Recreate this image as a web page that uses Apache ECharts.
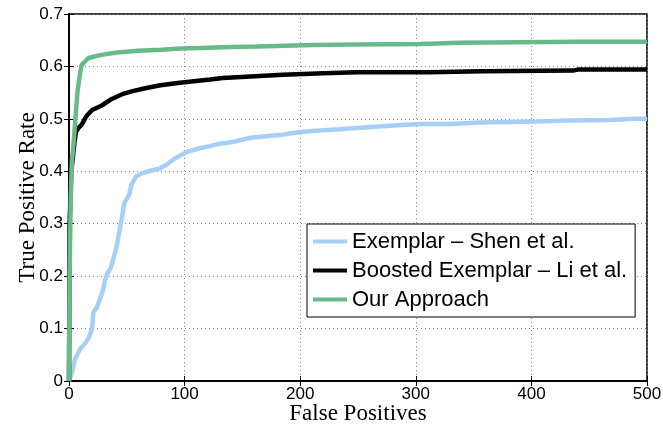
<!DOCTYPE html>
<html>
<head>
<meta charset="utf-8">
<script src="https://cdn.jsdelivr.net/npm/echarts@6/dist/echarts.min.js"></script>
<style>
html, body { margin: 0; padding: 0; background: #fff; }
#chart { width: 663px; height: 430px; }
</style>
</head>
<body>
<div id="chart"></div>
<script>
// 数据
var seriesNames = ['Exemplar – Shen et al.', 'Boosted Exemplar – Li et al.', 'Our Approach'];

var shenX = [0, 3, 5, 7, 10, 14, 17, 20, 21, 24, 26, 29, 31, 33, 36, 38, 41, 44, 46, 48, 52, 54, 58, 64, 72, 78, 84, 90, 96, 102, 113, 122, 131, 142, 157, 170, 182, 197, 210, 234, 258, 284, 304, 330, 355, 405, 432, 467, 490, 500];
var shenY = [0, 0.02, 0.04, 0.05, 0.062, 0.072, 0.082, 0.1, 0.13, 0.14, 0.152, 0.17, 0.19, 0.205, 0.215, 0.23, 0.255, 0.29, 0.315, 0.34, 0.355, 0.374, 0.39, 0.397, 0.402, 0.405, 0.412, 0.422, 0.43, 0.437, 0.444, 0.448, 0.453, 0.456, 0.464, 0.467, 0.469, 0.474, 0.477, 0.48, 0.484, 0.488, 0.49, 0.49, 0.493, 0.495, 0.497, 0.498, 0.5, 0.5];

var liX = [0, 0.5, 2, 4, 5, 6, 8, 11, 15, 20, 28, 37, 46, 55, 65, 79, 96, 122, 133, 157, 185, 220, 249, 312, 357, 436, 440, 500];
var liY = [0, 0.3, 0.4, 0.44, 0.46, 0.475, 0.482, 0.489, 0.505, 0.517, 0.525, 0.538, 0.547, 0.553, 0.558, 0.564, 0.569, 0.575, 0.578, 0.581, 0.584, 0.587, 0.589, 0.589, 0.591, 0.592, 0.594, 0.594];

var oursX = [0, 0.5, 1.5, 2.5, 3.5, 5.5, 7.5, 9.8, 11, 14, 17, 22, 28, 37, 44, 60, 80, 96, 113, 140, 163, 211, 250, 304, 338, 439, 500];
var oursY = [0, 0.2, 0.35, 0.42, 0.44, 0.5, 0.555, 0.59, 0.603, 0.61, 0.616, 0.619, 0.622, 0.625, 0.627, 0.63, 0.632, 0.634, 0.635, 0.637, 0.638, 0.641, 0.642, 0.643, 0.645, 0.647, 0.647];

var xTicks = [0, 100, 200, 300, 400, 500];
var yTicks = [0, 0.1, 0.2, 0.3, 0.4, 0.5, 0.6, 0.7];

var colors = ['#a6cff5', '#000000', '#68bb88'];

function zip(xs, ys) {
    var out = [];
    for (var i = 0; i < xs.length; i++) {
        out.push([xs[i], ys[i]]);
    }
    return out;
}

var sansFont = '"Liberation Sans", Arial, Helvetica, sans-serif';
var serifFont = '"Liberation Serif", "Times New Roman", serif';
var gridLine = { show: true, lineStyle: { color: '#888', width: 1, type: [1, 3] } };

var myChart = echarts.init(document.getElementById('chart'));

var option = {
    animation: false,
    backgroundColor: '#fff',
    color: colors,
    grid: {
        left: 69, right: 16, top: 14, bottom: 49,
        outerBoundsMode: 'none',
        containLabel: false,
        show: true, borderColor: '#000', borderWidth: 1.5, backgroundColor: 'transparent'
    },
    legend: {
        data: seriesNames,
        orient: 'vertical',
        left: 307, top: 224,
        padding: [6, 8, 6, 6],
        itemGap: 6,
        itemWidth: 34, itemHeight: 4,
        icon: 'rect',
        backgroundColor: '#fff',
        borderColor: '#000', borderWidth: 1,
        textStyle: { fontFamily: sansFont, fontSize: 22, color: '#000', lineHeight: 23 }
    },
    xAxis: [{
        type: 'value',
        min: xTicks[0], max: xTicks[xTicks.length - 1], interval: 100,
        name: 'False Positives', nameLocation: 'middle', nameGap: 21,
        nameMoveOverlap: false,
        nameTextStyle: { fontFamily: serifFont, fontSize: 23, color: '#000' },
        axisLine: { show: true, lineStyle: { color: '#000', width: 1.5 } },
        axisTick: { show: true, inside: true, length: 5, lineStyle: { color: '#000' } },
        axisLabel: { fontFamily: sansFont, fontSize: 17, color: '#000', margin: 5 },
        splitLine: gridLine
    }, {
        type: 'value', position: 'top',
        min: xTicks[0], max: xTicks[xTicks.length - 1], interval: 100,
        axisLine: { show: true, lineStyle: { color: '#000', width: 1.5 } },
        axisTick: { show: true, inside: true, length: 5, lineStyle: { color: '#000' } },
        axisLabel: { show: false },
        splitLine: { show: false }
    }],
    yAxis: [{
        type: 'value',
        min: yTicks[0], max: yTicks[yTicks.length - 1], interval: 0.1,
        name: 'True Positive Rate', nameLocation: 'middle', nameGap: 30,
        nameMoveOverlap: false,
        nameTextStyle: { fontFamily: serifFont, fontSize: 23, color: '#000' },
        axisLine: { show: true, lineStyle: { color: '#000', width: 1.5 } },
        axisTick: { show: true, inside: true, length: 5, lineStyle: { color: '#000' } },
        axisLabel: { fontFamily: sansFont, fontSize: 17, color: '#000', margin: 6 },
        splitLine: gridLine
    }, {
        type: 'value', position: 'right',
        min: yTicks[0], max: yTicks[yTicks.length - 1], interval: 0.1,
        axisLine: { show: true, lineStyle: { color: '#000', width: 1.5 } },
        axisTick: { show: true, inside: true, length: 5, lineStyle: { color: '#000' } },
        axisLabel: { show: false },
        splitLine: { show: false }
    }],
    series: [{
        name: seriesNames[0], type: 'line', showSymbol: false,
        lineStyle: { width: 4.5, color: colors[0] },
        data: zip(shenX, shenY)
    }, {
        name: seriesNames[1], type: 'line', showSymbol: false,
        lineStyle: { width: 4.5, color: colors[1] },
        data: zip(liX, liY)
    }, {
        name: seriesNames[2], type: 'line', showSymbol: false,
        lineStyle: { width: 4.5, color: colors[2] },
        data: zip(oursX, oursY)
    }]
};

myChart.setOption(option);
</script>
</body>
</html>
